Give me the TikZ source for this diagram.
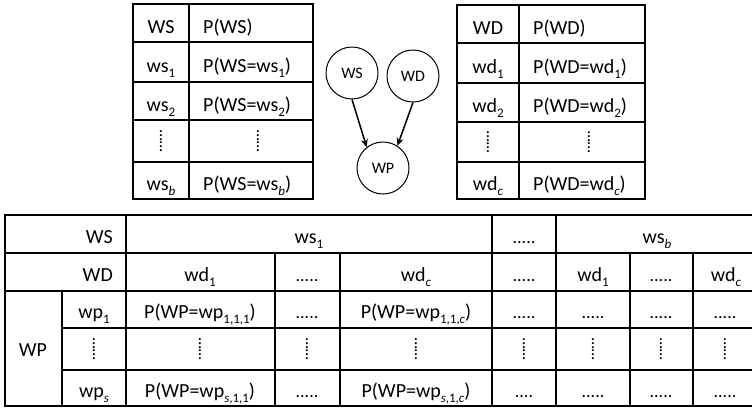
\documentclass[tikz,border=0pt]{standalone}
\usepackage{fontspec}
\setmainfont{Carlito}
\usetikzlibrary{arrows.meta}
% lowered, smaller index text
\newcommand\lsub[1]{\raisebox{-0.28em}{\fontsize{13}{13}\selectfont #1}}
% vertical run of dots
\newcommand\vdts{\rotatebox{90}{\fontsize{14}{14}\selectfont\bfseries ......}}
\begin{document}
\begin{tikzpicture}[x=1pt,y=-1pt,
  grid/.style={line width=1.6pt,line cap=rect},
  lbl/.style={inner sep=0pt,font=\fontsize{20}{24}\selectfont},
  bl/.style={lbl,anchor=base},
  blw/.style={lbl,anchor=base west},
  ble/.style={lbl,anchor=base east},
  dts/.style={inner sep=0pt,anchor=base,font=\fontsize{18}{20}\selectfont},
  vd/.style={inner sep=0pt,anchor=center},
  var/.style={circle,draw,line width=1pt,minimum size=52pt,inner sep=0pt,
              font=\fontsize{16}{18}\selectfont},
  dep/.style={line width=1.5pt,-{Stealth[length=8pt,width=7pt]}}]
\clip (0,0) rectangle (752,408);

% ---- prior table for WS ----
\draw[grid] (133,4) rectangle (313,199);
\foreach \y in {42,82,120,162} \draw[grid] (133,\y) -- (313,\y);
\draw[grid] (189,4) -- (189,199);
\node[bl]  (wsh)  at (161,33)  {WS};
\node[blw] (pwsh) at (203,33)  {P(WS)};
\node[bl]  (ws1)  at (161,72)  {ws\lsub{1}};
\node[blw] (pws1) at (203,72)  {P(WS=ws\lsub{1})};
\node[bl]  (ws2)  at (161,111) {ws\lsub{2}};
\node[blw] (pws2) at (203,111) {P(WS=ws\lsub{2})};
\node[vd]  (wsv)  at (161,141) {\vdts};
\node[vd]  (pwsv) at (258,141) {\vdts};
\node[bl]  (wsb)  at (161,190) {ws\lsub{\textit{b}}};
\node[blw] (pwsb) at (203,190) {P(WS=ws\lsub{\textit{b}})};

% ---- prior table for WD ----
\draw[grid] (457,5) rectangle (645,199);
\foreach \y in {43,83,122,162} \draw[grid] (457,\y) -- (645,\y);
\draw[grid] (519,5) -- (519,199);
\node[bl]  (wdh)  at (488,34)  {WD};
\node[blw] (pwdh) at (533,34)  {P(WD)};
\node[bl]  (wd1)  at (488,73)  {wd\lsub{1}};
\node[blw] (pwd1) at (533,73)  {P(WD=wd\lsub{1})};
\node[bl]  (wd2)  at (488,112) {wd\lsub{2}};
\node[blw] (pwd2) at (533,112) {P(WD=wd\lsub{2})};
\node[vd]  (wdv)  at (488,142) {\vdts};
\node[vd]  (pwdv) at (589,142) {\vdts};
\node[bl]  (wdc)  at (488,190) {wd\lsub{\textit{c}}};
\node[blw] (pwdc) at (533,190) {P(WD=wd\lsub{\textit{c}})};

% ---- network ----
\node[var] (nws) at (352,73)  {WS};
\node[var] (nwd) at (413,76)  {WD};
\node[var] (nwp) at (383,168) {WP};
\draw[dep] (nws.270) -- (nwp.128);
\draw[dep] (nwd.270) -- (nwp.57);

% ---- conditional table for WP ----
\foreach \y in {215,253,291,406} \draw[grid] (5,\y) -- (760,\y);
\foreach \y in {328,370} \draw[grid] (62,\y) -- (760,\y);
\foreach \x in {5,126,492,556} \draw[grid] (\x,215) -- (\x,406);
\foreach \x in {275,340,630,693} \draw[grid] (\x,253) -- (\x,406);
\draw[grid] (62,291) -- (62,406);

\node[ble] (cws)  at (113,243) {WS};
\node[bl]  (cws1) at (309,243) {ws\lsub{1}};
\node[dts] (cwsd) at (524,243) {.....};
\node[bl]  (cwsb) at (657,243) {ws\lsub{\textit{b}}};

\node[ble] (cwd)   at (113,281) {WD};
\node[bl]  (cwd1)  at (200,281) {wd\lsub{1}};
\node[dts] (cwdd)  at (307,281) {.....};
\node[bl]  (cwdc)  at (416,281) {wd\lsub{\textit{c}}};
\node[dts] (cwdd2) at (524,281) {.....};
\node[bl]  (cwd1b) at (593,281) {wd\lsub{1}};
\node[dts] (cwdd3) at (661,281) {.....};
\node[bl]  (cwdcb) at (726,281) {wd\lsub{\textit{c}}};

\node[lbl] (cwp) at (33,350) {WP};

\node[bl]  (r1a) at (94,318)  {wp\lsub{1}};
\node[bl]  (r1b) at (200,318) {P(WP=wp\lsub{1,1,1})};
\node[dts] (r1c) at (307,318) {.....};
\node[bl]  (r1d) at (416,318) {P(WP=wp\lsub{1,1,\textit{c}})};
\node[dts] (r1e) at (524,318) {.....};
\node[dts] (r1f) at (593,318) {.....};
\node[dts] (r1g) at (661,318) {.....};
\node[dts] (r1h) at (725,318) {.....};

\foreach \x/\n in {94/a,200/b,307/c,416/d,524/e,593/f,661/g,725/h}
  \node[vd] (r2\n) at (\x,349) {\vdts};

\node[bl]  (r3a) at (94,397)  {wp\lsub{\textit{s}}};
\node[bl]  (r3b) at (200,397) {P(WP=wp\lsub{\textit{s},1,1})};
\node[dts] (r3c) at (307,397) {.....};
\node[bl]  (r3d) at (416,397) {P(WP=wp\lsub{\textit{s},1,\textit{c}})};
\node[dts] (r3e) at (524,397) {....};
\node[dts] (r3f) at (593,397) {.....};
\node[dts] (r3g) at (661,397) {.....};
\node[dts] (r3h) at (725,397) {.....};
\end{tikzpicture}
\end{document}
